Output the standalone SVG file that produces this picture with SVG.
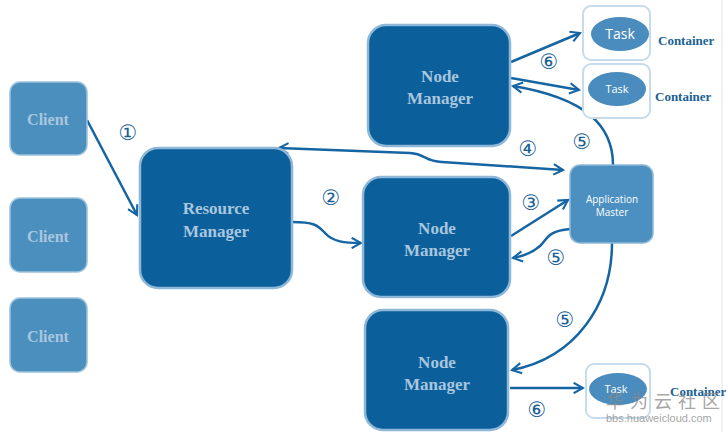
<svg xmlns="http://www.w3.org/2000/svg" width="726" height="432" viewBox="0 0 726 432">
<style>
.client{fill:#4b8fbe;stroke:#9cc2dc;stroke-width:1.5}
.big{fill:#0b5f9b;stroke:#8fb8d8;stroke-width:2.5}
.am{fill:#4b90c0;stroke:#8fb8d8;stroke-width:1.5}
.cont{fill:#ffffff;stroke:#c6dcea;stroke-width:2}
.task{fill:#4a8cbd}
.lbl{font-family:"Liberation Serif",serif;font-weight:bold;fill:#a9c6de;text-anchor:middle}
.tk{font-family:"Open Sans","Liberation Sans",sans-serif;fill:#ffffff;text-anchor:middle}
.ct{font-family:"Liberation Serif",serif;font-weight:bold;fill:#1c5f96;font-size:13px}
.num{font-family:"DejaVu Sans",sans-serif;fill:#1c5f96;font-size:21px;text-anchor:middle}
.c{fill:none;stroke:#1565a3;stroke-width:2.5}
</style>
<defs>
<marker id="ah" viewBox="0 0 12 12" refX="10" refY="6" markerWidth="5" markerHeight="5" orient="auto-start-reverse" markerUnits="strokeWidth">
<path d="M1,1 L10,6 L1,11" fill="none" stroke="#1565a3" stroke-width="2"/>
</marker>
</defs>
<rect width="726" height="432" fill="#ffffff"/>
<line x1="722" y1="0" x2="722" y2="432" stroke="#e2e2e2" stroke-width="1"/>

<g id="connectors">
<path class="c" d="M87,120 L137,215" marker-end="url(#ah)"/>
<path class="c" d="M279,148 L410,153 C426,154 424,161 442,162 L563,170" marker-start="url(#ah)" marker-end="url(#ah)"/>
<path class="c" d="M292,222 C316,222 318,226 325,233 C333,242 345,243 361,243" marker-end="url(#ah)"/>
<path class="c" d="M511,236 L568,200" marker-end="url(#ah)"/>
<path class="c" d="M570,229 C548,231 548,238 540,246 C532,253 525,256 513,258" marker-end="url(#ah)"/>
<path class="c" d="M613,165 C613,125 585,98 513,86" marker-end="url(#ah)"/>
<path class="c" d="M612,243 C612,305 575,358 512,370" marker-end="url(#ah)"/>
<path class="c" d="M511,62 L580,33" marker-end="url(#ah)"/>
<path class="c" d="M511,78 L579,90" marker-end="url(#ah)"/>
<path class="c" d="M510,388 L583,388" marker-end="url(#ah)"/>
<text class="num" x="128" y="140">①</text>
<text class="num" x="331" y="205">②</text>
<text class="num" x="531" y="210">③</text>
<text class="num" x="528" y="156">④</text>
<text class="num" x="582" y="149">⑤</text>
<text class="num" x="556" y="265">⑤</text>
<text class="num" x="565" y="327">⑤</text>
<text class="num" x="549" y="69">⑥</text>
<text class="num" x="537" y="417">⑥</text>
</g>

<g id="client1"><rect class="client" x="10" y="82" width="77" height="73" rx="10"/><text class="lbl" x="48" y="125" font-size="16">Client</text></g>
<g id="client2"><rect class="client" x="10" y="198" width="77" height="74" rx="10"/><text class="lbl" x="48" y="242" font-size="16">Client</text></g>
<g id="client3"><rect class="client" x="10" y="298" width="77" height="74" rx="10"/><text class="lbl" x="48" y="342" font-size="16">Client</text></g>

<g id="resource-manager"><rect class="big" x="140" y="148" width="152" height="140" rx="18"/>
<text class="lbl" x="216" y="214" font-size="17">Resource</text><text class="lbl" x="216" y="237" font-size="17">Manager</text></g>

<g id="node-manager-top"><rect class="big" x="368" y="25" width="142" height="121" rx="18"/>
<text class="lbl" x="440" y="82" font-size="17">Node</text><text class="lbl" x="440" y="104" font-size="17">Manager</text></g>

<g id="node-manager-mid"><rect class="big" x="363" y="177" width="147" height="120" rx="18"/>
<text class="lbl" x="437" y="234" font-size="17">Node</text><text class="lbl" x="437" y="256" font-size="17">Manager</text></g>

<g id="node-manager-bottom"><rect class="big" x="365" y="310" width="143" height="120" rx="18"/>
<text class="lbl" x="437" y="368" font-size="17">Node</text><text class="lbl" x="437" y="390" font-size="17">Manager</text></g>

<g id="application-master"><rect class="am" x="570" y="165" width="83" height="78" rx="10"/>
<text class="tk" x="612" y="203" font-size="10">Application</text><text class="tk" x="612" y="216" font-size="10">Master</text></g>

<g id="container1"><rect class="cont" x="583" y="6" width="67" height="54" rx="8"/>
<ellipse class="task" cx="620" cy="34" rx="29" ry="17"/><text class="tk" x="620" y="39" font-size="14">Task</text>
<text class="ct" x="658" y="45">Container</text></g>

<g id="container2"><rect class="cont" x="583" y="64" width="67" height="54" rx="8"/>
<ellipse class="task" cx="617" cy="89" rx="29" ry="17"/><text class="tk" x="617" y="93" font-size="11">Task</text>
<text class="ct" x="655" y="101">Container</text></g>

<g id="container3"><rect class="cont" x="586" y="364" width="64" height="54" rx="8"/>
<ellipse class="task" cx="618" cy="389" rx="29" ry="16"/><text class="tk" x="616" y="393" font-size="11">Task</text>
<text class="ct" x="670" y="396">Container</text></g>

<g id="watermark" fill="#8a8a8a" opacity="0.75">
<text x="606" y="408" font-family="Noto Sans CJK SC,sans-serif" font-size="18" letter-spacing="6">华为云社区</text>
<text x="606" y="422" font-family="Liberation Sans,sans-serif" font-size="11">bbs.huaweicloud.com</text>
</g>
</svg>
